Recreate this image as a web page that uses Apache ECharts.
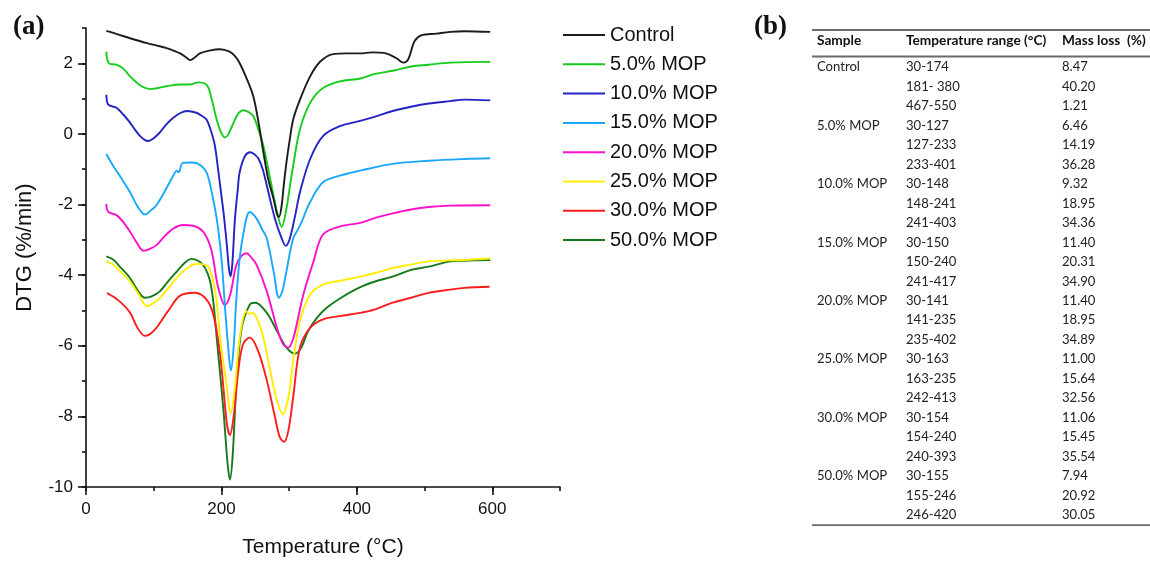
<!DOCTYPE html>
<html>
<head>
<meta charset="utf-8">
<title>DTG curves and mass loss</title>
<script src="https://cdn.jsdelivr.net/npm/echarts@6/dist/echarts.min.js"></script>
<style>
  html, body { margin: 0; padding: 0; background: #fff; }
  #chart { width: 1150px; height: 563px; }
</style>
</head>
<body>
<div id="chart"></div>
<script>
// ---- DTG curves: [temperature °C, DTG %/min] ----
const seriesNames = ['Control', '5.0% MOP', '10.0% MOP', '15.0% MOP', '20.0% MOP', '25.0% MOP', '30.0% MOP', '50.0% MOP'];

const dtgControl = [
  [30, 2.92], [47, 2.82], [65, 2.71], [90, 2.57], [105, 2.50], [119, 2.43], [132, 2.34], [139, 2.28],
  [147, 2.18], [154, 2.09], [161, 2.17], [168, 2.28], [182, 2.36], [198, 2.40], [212, 2.33], [220, 2.20],
  [227, 2.00], [237, 1.58], [247, 1.07], [254, 0.41], [262, -0.52], [269, -1.27], [277, -1.84],
  [282, -2.26], [285, -2.35], [289, -2.02], [292, -1.46], [296, -0.81], [301, -0.15], [306, 0.41],
  [316, 0.97], [331, 1.63], [346, 2.05], [365, 2.26], [385, 2.28], [405, 2.28], [422, 2.31], [443, 2.28],
  [458, 2.15], [469, 2.02], [476, 2.12], [485, 2.62], [495, 2.79], [517, 2.84], [538, 2.89], [559, 2.91],
  [597, 2.89]
];
const dtg5 = [
  [30, 2.33], [34, 2.00], [45, 1.96], [55, 1.85], [65, 1.63], [74, 1.47], [82, 1.35], [94, 1.27],
  [106, 1.30], [119, 1.35], [139, 1.40], [154, 1.40], [166, 1.46], [176, 1.42], [181, 1.30], [186, 0.95],
  [193, 0.41], [200, 0.02], [205, -0.10], [210, -0.02], [218, 0.32], [225, 0.58], [232, 0.67], [240, 0.62],
  [247, 0.51], [255, 0.10], [262, -0.34], [272, -1.27], [282, -2.21], [289, -2.63], [296, -2.12],
  [301, -1.50], [306, -0.90], [316, 0.13], [331, 0.88], [350, 1.30], [375, 1.49], [405, 1.57],
  [427, 1.70], [453, 1.79], [480, 1.91], [506, 1.96], [538, 2.02], [597, 2.04]
];
const dtg10 = [
  [30, 1.11], [33, 0.83], [45, 0.74], [55, 0.55], [65, 0.32], [73, 0.10], [80, -0.06], [86, -0.16],
  [92, -0.20], [100, -0.12], [109, 0.04], [119, 0.28], [129, 0.46], [140, 0.60], [149, 0.65],
  [163, 0.60], [172, 0.50], [178, 0.41], [184, 0.12], [190, -0.30], [195, -0.99], [199, -1.60],
  [203, -2.21], [208, -3.15], [211, -3.80], [213.5, -4.03], [216, -3.70], [220, -2.40], [224, -1.60],
  [227, -1.08], [235, -0.62], [243, -0.52], [250, -0.60], [255, -0.71], [261, -1.00], [267, -1.46],
  [279, -2.40], [289, -2.96], [295, -3.17], [301, -2.96], [309, -2.30], [316, -1.65], [331, -0.71],
  [350, -0.06], [375, 0.22], [405, 0.37], [427, 0.49], [453, 0.65], [480, 0.77], [506, 0.86],
  [538, 0.93], [559, 0.97], [597, 0.95]
];
const dtg15 = [
  [30, -0.57], [40, -0.90], [52, -1.25], [65, -1.65], [75, -2.02], [84, -2.26], [88, -2.28],
  [95, -2.18], [104, -2.02], [117, -1.60], [129, -1.18], [134, -1.04], [137, -1.09], [143, -0.82],
  [158, -0.81], [170, -0.90], [178, -1.09], [184, -1.50], [193, -2.40], [200, -3.52], [205, -4.83],
  [210, -6.05], [214, -6.70], [218, -6.05], [221.5, -4.83], [226, -3.70], [232, -2.87], [242, -2.21],
  [252, -2.40], [260, -2.70], [267, -2.96], [277, -3.89], [285, -4.64], [290, -4.45], [296, -3.89],
  [306, -2.96], [316, -2.60], [331, -1.93], [350, -1.37], [375, -1.18], [405, -1.04], [453, -0.85],
  [506, -0.76], [559, -0.71], [597, -0.69]
];
const dtg20 = [
  [30, -1.98], [33, -2.21], [45, -2.30], [55, -2.50], [65, -2.77], [75, -3.08], [85, -3.31],
  [95, -3.25], [104, -3.15], [117, -2.88], [129, -2.68], [143, -2.58], [158, -2.60], [173, -2.77],
  [183, -3.15], [188, -3.55], [193, -4.15], [198, -4.55], [205, -4.85], [213, -4.55], [222, -3.71],
  [230, -3.45], [237, -3.38], [244, -3.50], [252, -3.71], [267, -4.46], [282, -5.49], [291, -5.95],
  [299, -6.05], [305, -5.85], [309, -5.58], [321, -4.55], [336, -3.61], [350, -2.85], [375, -2.62],
  [405, -2.52], [427, -2.38], [453, -2.25], [480, -2.14], [506, -2.07], [538, -2.03], [597, -2.02]
];
const dtg25 = [
  [30, -3.61], [40, -3.70], [52, -3.92], [65, -4.18], [78, -4.55], [90, -4.88], [99, -4.80],
  [109, -4.65], [121, -4.38], [134, -4.08], [146, -3.85], [158, -3.70], [165, -3.68], [180, -3.76],
  [188, -4.20], [193, -4.75], [198, -5.77], [208, -7.17], [213.5, -7.92], [220, -7.17], [227, -5.77],
  [237, -5.02], [241, -5.10], [245, -5.07], [252, -5.21], [262, -5.77], [272, -6.70], [282, -7.55],
  [290.5, -7.94], [299, -7.45], [306, -6.42], [316, -5.30], [331, -4.55], [350, -4.27], [375, -4.16],
  [405, -4.04], [427, -3.94], [453, -3.80], [480, -3.70], [506, -3.61], [559, -3.57], [597, -3.53]
];
const dtg30 = [
  [31, -4.51], [47, -4.70], [65, -5.06], [76, -5.49], [87, -5.72], [100, -5.58], [121, -5.02],
  [139, -4.58], [161, -4.50], [178, -4.69], [188, -5.11], [198, -6.24], [208, -8.20], [212.5, -8.53],
  [218, -8.01], [225, -6.70], [232, -5.95], [242, -5.77], [254, -6.14], [267, -6.98], [279, -8.01],
  [286, -8.58], [292.5, -8.72], [299, -8.39], [306, -7.45], [316, -6.05], [331, -5.49], [350, -5.25],
  [375, -5.16], [405, -5.07], [427, -4.97], [453, -4.78], [480, -4.64], [506, -4.50], [538, -4.41],
  [559, -4.36], [596, -4.33]
];
const dtg50 = [
  [30, -3.47], [40, -3.56], [52, -3.80], [65, -4.08], [77, -4.45], [87, -4.64], [97, -4.60],
  [109, -4.46], [121, -4.18], [134, -3.90], [146, -3.65], [156, -3.54], [168, -3.62], [176, -3.80],
  [183, -4.15], [188, -4.75], [193, -5.77], [203, -7.83], [209, -9.32], [212.5, -9.79], [216.5, -9.14],
  [222.5, -6.98], [230, -5.49], [242, -4.83], [250, -4.78], [267, -5.07], [282, -5.58], [296, -6.05],
  [309, -6.22], [318, -6.05], [328, -5.58], [341, -5.21], [355, -4.93], [375, -4.66], [405, -4.34],
  [427, -4.18], [453, -4.04], [480, -3.85], [506, -3.76], [538, -3.61], [559, -3.59], [597, -3.57]
];
const seriesData = [dtgControl, dtg5, dtg10, dtg15, dtg20, dtg25, dtg30, dtg50];
const seriesColors = ['#1c1c1c', '#16cc1c', '#2323c4', '#1aa8ff', '#ff10c8', '#ffee00', '#ff1c1c', '#157a1c'];

// ---- axis ticks ----
const xMajorTicks = [0, 200, 400, 600];
const yMajorTicks = [-10, -8, -6, -4, -2, 0, 2];

// ---- mass-loss table ----
const tableHeader = ['Sample', 'Temperature range (°C)', 'Mass loss  (%)'];
const tableSamples = ['Control', '5.0% MOP', '10.0% MOP', '15.0% MOP', '20.0% MOP', '25.0% MOP', '30.0% MOP', '50.0% MOP'];
const tableRanges = [
  ['30-174', '181- 380', '467-550'],
  ['30-127', '127-233', '233-401'],
  ['30-148', '148-241', '241-403'],
  ['30-150', '150-240', '241-417'],
  ['30-141', '141-235', '235-402'],
  ['30-163', '163-235', '242-413'],
  ['30-154', '154-240', '240-393'],
  ['30-155', '155-246', '246-420']
];
const tableMassLoss = [
  ['8.47', '40.20', '1.21'],
  ['6.46', '14.19', '36.28'],
  ['9.32', '18.95', '34.36'],
  ['11.40', '20.31', '34.90'],
  ['11.40', '18.95', '34.89'],
  ['11.00', '15.64', '32.56'],
  ['11.06', '15.45', '35.54'],
  ['7.94', '20.92', '30.05']
];

// ---- layout ----
const sansFont = '"Liberation Sans", Arial, sans-serif';
const tableFont = 'Lato, "Open Sans", sans-serif';
const grid = { left: 86, top: 28, width: 474, height: 463 };

const tableLeft = 812, tableRight = 1150;
const colX = [817, 906, 1062];
const headerY = 41;
const firstRowY = 67;
const rowStep = 19.48;
const headerFont = 'bold 13.7px ' + tableFont;
const cellFont = '13.1px ' + tableFont;

const tableElements = [];
[30, 56.5].forEach(function (y) {
  tableElements.push({ type: 'line', shape: { x1: tableLeft, y1: y, x2: tableRight, y2: y },
    style: { stroke: '#6a6a6a', lineWidth: 1.8 } });
});
tableHeader.forEach(function (t, c) {
  tableElements.push({ type: 'text', x: colX[c], y: headerY,
    style: { text: t, font: headerFont, fill: '#111', textVerticalAlign: 'middle' } });
});
let rowIdx = 0;
tableSamples.forEach(function (s, g) {
  for (let k = 0; k < 3; k++) {
    const y = firstRowY + rowIdx * rowStep;
    if (k === 0) {
      tableElements.push({ type: 'text', x: colX[0], y: y,
        style: { text: s, font: cellFont, fill: '#222', textVerticalAlign: 'middle' } });
    }
    tableElements.push({ type: 'text', x: colX[1], y: y,
      style: { text: tableRanges[g][k], font: cellFont, fill: '#222', textVerticalAlign: 'middle' } });
    tableElements.push({ type: 'text', x: colX[2], y: y,
      style: { text: tableMassLoss[g][k], font: cellFont, fill: '#222', textVerticalAlign: 'middle' } });
    rowIdx++;
  }
});
const bottomRuleY = firstRowY + (rowIdx - 1) * rowStep + 10;
tableElements.push({ type: 'line', shape: { x1: tableLeft, y1: bottomRuleY, x2: tableRight, y2: bottomRuleY },
  style: { stroke: '#6a6a6a', lineWidth: 1.8 } });

const chart = echarts.init(document.getElementById('chart'), null, { renderer: 'canvas' });

const axisLineStyle = { color: '#111', width: 1.6 };

chart.setOption({
  backgroundColor: '#fff',
  animation: false,
  color: seriesColors,
  grid: grid,
  legend: {
    orient: 'vertical',
    left: 558,
    top: 20,
    icon: 'rect',
    itemWidth: 42,
    itemHeight: 2,
    itemGap: 9.3,
    textStyle: { fontFamily: sansFont, fontSize: 20, color: '#111', lineHeight: 20 },
    data: seriesNames
  },
  xAxis: [
    {
      type: 'value', min: 0, max: 700, interval: 100,
      axisLine: { onZero: false, lineStyle: axisLineStyle },
      axisTick: { inside: false, length: 4, lineStyle: axisLineStyle },
      axisLabel: {
        margin: 14, fontFamily: sansFont, fontSize: 17, color: '#111',
        formatter: function (v) { return v % 200 === 0 ? String(v) : ''; }
      },
      splitLine: { show: false },
      name: 'Temperature (°C)', nameLocation: 'middle', nameGap: 50,
      nameTextStyle: { fontFamily: sansFont, fontSize: 21, color: '#111' }
    },
    {
      type: 'value', min: 0, max: 700, position: 'bottom',
      axisLine: { show: false, onZero: false },
      axisTick: { inside: false, length: 8, customValues: xMajorTicks, lineStyle: axisLineStyle },
      axisLabel: { show: false },
      splitLine: { show: false }
    }
  ],
  yAxis: [
    {
      type: 'value', min: -10, max: 3, interval: 1,
      axisLine: { show: true, onZero: false, lineStyle: axisLineStyle },
      axisTick: { show: true, inside: false, length: 4, lineStyle: axisLineStyle },
      axisLabel: {
        margin: 13, fontFamily: sansFont, fontSize: 17, color: '#111',
        formatter: function (v) { return v % 2 === 0 ? String(v) : ''; }
      },
      splitLine: { show: false },
      name: 'DTG (%/min)', nameLocation: 'middle', nameGap: 50,
      nameTextStyle: { fontFamily: sansFont, fontSize: 22, color: '#111', padding: [0, 0, 0, 20] }
    },
    {
      type: 'value', min: -10, max: 3, position: 'left',
      axisLine: { show: false, onZero: false },
      axisTick: { show: true, inside: false, length: 8, customValues: yMajorTicks, lineStyle: axisLineStyle },
      axisLabel: { show: false },
      splitLine: { show: false }
    }
  ],
  series: seriesNames.map(function (name, i) {
    return {
      name: name,
      type: 'line',
      xAxisIndex: 0,
      yAxisIndex: 0,
      data: seriesData[i],
      symbol: 'none',
      smooth: 0.35,
      lineStyle: { width: 1.9, color: seriesColors[i] },
      itemStyle: { color: seriesColors[i] },
      z: 10 - i
    };
  }),
  graphic: [
    { type: 'text', left: 13, top: 14,
      style: { text: '(a)', font: 'bold 27px "Liberation Serif", "Times New Roman", serif', fill: '#111' } },
    { type: 'text', left: 754, top: 14,
      style: { text: '(b)', font: 'bold 27px "Liberation Serif", "Times New Roman", serif', fill: '#111' } },
    { type: 'group', children: tableElements }
  ]
});
</script>
</body>
</html>
